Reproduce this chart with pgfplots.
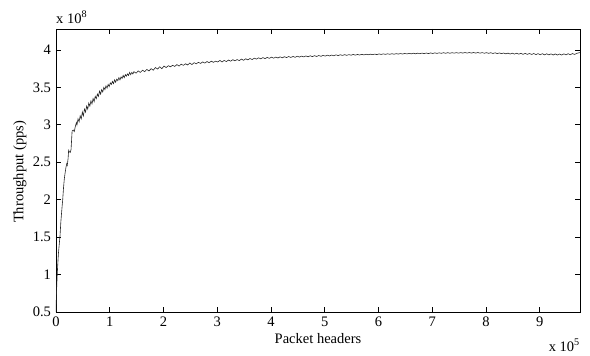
\documentclass[border=0pt]{standalone}
\usepackage{fontspec}
\setmainfont{Liberation Serif}
\usepackage{pgfplots}
\pgfplotsset{compat=1.18}
\begin{document}
\fontsize{14.5}{17}\selectfont
\begin{tikzpicture}
\begin{axis}[
  width=524pt, height=283pt, scale only axis,
  xmin=0, xmax=9.75, ymin=0.5, ymax=4.28,
  xtick={0,1,...,9}, ytick={0.5,1,1.5,2,2.5,3,3.5,4},
  scaled ticks=false,
  tick align=inside, major tick length=5pt,
  /pgf/number format/assume math mode=true,
  tick label style={font=\fontsize{14.5}{17}\selectfont},
  label style={font=\fontsize{14.5}{17}\selectfont},
  xlabel={Packet headers}, ylabel={Throughput (pps)},
  xlabel style={at={(axis description cs:0.5,-0.0954)}, anchor=center},
  ylabel style={at={(axis description cs:-0.0687,0.495)}, anchor=center},
  axis line style={line width=0.8pt},
  every tick/.style={line width=0.7pt, black},
  clip mode=individual,
]
\addplot[black!85, line width=0.6pt] coordinates {
(0,0.50) (0.01,0.78) (0.02,0.95) (0.03,1.10) (0.045,1.28) (0.06,1.40) (0.075,1.52) (0.09,1.70) (0.11,1.88) (0.125,2.00)
(0.14,2.16) (0.155,2.28) (0.17,2.36) (0.185,2.43) (0.20,2.48) (0.21,2.46) (0.225,2.55) (0.235,2.66) (0.25,2.64) (0.265,2.63)
(0.28,2.67) (0.30,2.92) (0.32,2.93) (0.34,2.91) (0.36,2.98) (0.38,3.03) (0.39,3.00) (0.41,3.08) (0.43,3.04) (0.45,3.12)
(0.47,3.08) (0.49,3.17) (0.51,3.12) (0.53,3.21) (0.55,3.17) (0.57,3.25) (0.59,3.21) (0.61,3.29) (0.63,3.25) (0.65,3.32)
(0.67,3.28) (0.69,3.35) (0.71,3.31) (0.73,3.38) (0.75,3.35) (0.77,3.41) (0.79,3.38) (0.81,3.45) (0.83,3.41) (0.85,3.47)
(0.87,3.44) (0.89,3.50) (0.91,3.47) (0.93,3.52) (0.95,3.49) (0.97,3.54) (0.99,3.51) (1.01,3.56) (1.03,3.54) (1.05,3.58)
(1.07,3.55) (1.09,3.60) (1.11,3.57) (1.13,3.61) (1.15,3.59) (1.17,3.63) (1.19,3.60) (1.21,3.64) (1.23,3.62) (1.25,3.66)
(1.27,3.63) (1.29,3.67) (1.31,3.65) (1.33,3.68) (1.35,3.66) (1.37,3.70) (1.39,3.67) (1.41,3.70) (1.43,3.68)
(1.45,3.71) (1.49,3.69) (1.53,3.72) (1.57,3.70) (1.61,3.73) (1.65,3.71) (1.69,3.74) (1.73,3.72) (1.77,3.75) (1.81,3.73)
(1.85,3.765) (1.89,3.745) (1.93,3.775) (1.97,3.75) (2.01,3.785) (2.05,3.765) (2.09,3.79) (2.13,3.775) (2.17,3.795) (2.21,3.78)
(2.25,3.805) (2.29,3.785) (2.33,3.81) (2.37,3.795) (2.41,3.815) (2.45,3.80) (2.49,3.825) (2.53,3.805) (2.57,3.83) (2.61,3.815)
(2.65,3.835) (2.69,3.82) (2.73,3.84) (2.77,3.825) (2.81,3.845) (2.85,3.83) (2.89,3.85) (2.93,3.835) (2.97,3.85) (3.01,3.84)
(3.05,3.86) (3.09,3.84) (3.13,3.86) (3.17,3.845) (3.21,3.865) (3.25,3.85) (3.29,3.87) (3.33,3.855) (3.37,3.872) (3.41,3.858)
(3.45,3.878) (3.49,3.862) (3.53,3.882) (3.57,3.868) (3.61,3.886) (3.65,3.872) (3.69,3.89) (3.73,3.878) (3.77,3.895) (3.81,3.882)
(3.85,3.898) (3.89,3.885) (3.93,3.90) (3.97,3.888) (4.01,3.904) (4.05,3.89) (4.09,3.905) (4.13,3.893) (4.17,3.908) (4.21,3.895)
(4.25,3.91) (4.29,3.898) (4.33,3.912) (4.37,3.90) (4.41,3.913) (4.45,3.902) (4.49,3.916) (4.53,3.905) (4.57,3.918) (4.61,3.907)
(4.65,3.92) (4.69,3.909) (4.73,3.922) (4.77,3.911) (4.81,3.924) (4.85,3.913) (4.89,3.926) (4.93,3.915) (4.97,3.928) (5.01,3.918)
(5.05,3.93) (5.09,3.92) (5.13,3.932) (5.17,3.922) (5.21,3.935) (5.25,3.925) (5.29,3.936) (5.33,3.927) (5.37,3.937) (5.41,3.928)
(5.45,3.938) (5.49,3.93) (5.53,3.94) (5.57,3.931) (5.61,3.94) (5.65,3.933) (5.69,3.941) (5.73,3.934) (5.77,3.943) (5.81,3.936)
(5.85,3.944) (5.89,3.937) (5.93,3.945) (5.97,3.938) (6.01,3.947) (6.05,3.94) (6.09,3.948) (6.13,3.941) (6.17,3.949) (6.21,3.942)
(6.25,3.95) (6.29,3.943) (6.33,3.951) (6.37,3.945) (6.41,3.952) (6.45,3.946) (6.49,3.953) (6.53,3.947) (6.57,3.955) (6.61,3.948)
(6.65,3.956) (6.69,3.949) (6.73,3.957) (6.77,3.95) (6.81,3.958) (6.85,3.951) (6.89,3.959) (6.93,3.952) (6.97,3.96) (7.01,3.953)
(7.05,3.961) (7.09,3.954) (7.13,3.962) (7.17,3.955) (7.21,3.963) (7.25,3.956) (7.29,3.964) (7.33,3.956) (7.37,3.964) (7.41,3.957)
(7.45,3.965) (7.49,3.957) (7.53,3.965) (7.57,3.958) (7.61,3.966) (7.65,3.958) (7.69,3.966) (7.73,3.958) (7.77,3.966) (7.81,3.958)
(7.85,3.966) (7.89,3.957) (7.93,3.965) (7.97,3.956) (8.01,3.964) (8.05,3.955) (8.09,3.963) (8.13,3.953) (8.17,3.962) (8.21,3.952)
(8.25,3.96) (8.29,3.951) (8.33,3.959) (8.37,3.948) (8.41,3.958) (8.45,3.946) (8.49,3.957) (8.53,3.945) (8.57,3.956) (8.61,3.944)
(8.65,3.955) (8.69,3.942) (8.73,3.954) (8.77,3.941) (8.81,3.953) (8.85,3.94) (8.89,3.952) (8.93,3.938) (8.97,3.951) (9.01,3.936)
(9.05,3.95) (9.09,3.935) (9.13,3.949) (9.17,3.934) (9.21,3.948) (9.25,3.933) (9.29,3.947) (9.33,3.932) (9.37,3.946) (9.41,3.932)
(9.45,3.948) (9.49,3.934) (9.53,3.95) (9.57,3.936) (9.61,3.952) (9.65,3.94) (9.69,3.955) (9.73,3.962) (9.75,3.965)
};
\node[anchor=base west, inner sep=0pt] at (axis description cs:0,1.021) {x 10\textsuperscript{8}};
\node[anchor=base east, inner sep=0pt] at (axis description cs:1,-0.138) {x 10\textsuperscript{5}};
\end{axis}
\pgfresetboundingbox
\path (-56pt,-44pt) rectangle (534pt,312pt);
\end{tikzpicture}
\end{document}
